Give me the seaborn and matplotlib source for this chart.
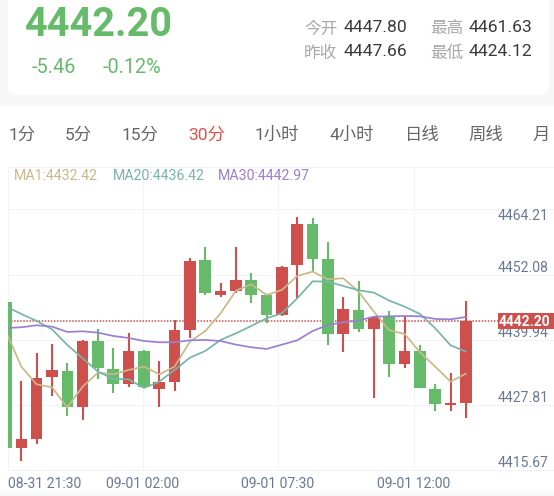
import numpy as np
import pandas as pd
import matplotlib
matplotlib.use("Agg")
import matplotlib.pyplot as plt
from matplotlib.patches import FancyBboxPatch, Rectangle
from matplotlib.transforms import blended_transform_factory
import seaborn as sns

highs = [4447.04,4432.29,4437.43,4439.17,4435.57,4439.91,4442.02,4438.36,4441.27,4438.05,4435.94,4443.69,4455.10,4457.21,4450.57,4457.15,4452.37,4448.28,4453.67,4462.85,4462.66,4458.14,4447.91,4450.95,4444.37,4445.37,4444.37,4438.98,4431.79,4433.83,4447.10]
lows = [4419.76,4417.47,4420.51,4429.43,4425.84,4425.03,4432.59,4430.12,4431.17,4430.92,4427.51,4430.49,4440.28,4448.22,4447.85,4448.59,4446.85,4443.13,4444.37,4447.66,4452.62,4438.98,4437.62,4441.46,4429.06,4433.09,4434.64,4430.92,4426.71,4426.77,4425.34]
opens = [4447.04,4419.76,4421.50,4432.97,4434.21,4427.51,4439.66,4434.45,4431.79,4437.80,4430.86,4432.16,4441.77,4454.73,4448.22,4449.09,4451.01,4448.22,4444.62,4453.80,4461.55,4454.98,4441.09,4445.55,4442.02,4444.19,4435.38,4437.93,4430.86,4427.76,4428.19]
closes = [4419.76,4421.44,4432.78,4434.27,4427.51,4439.66,4434.64,4431.79,4437.80,4431.11,4432.16,4441.71,4454.60,4448.65,4448.96,4451.01,4448.22,4444.62,4453.55,4461.42,4455.04,4441.09,4445.61,4442.02,4444.25,4435.45,4437.93,4430.92,4427.95,4428.13,4443.44]
ma1 = [4441.46,4434.95,4431.66,4431.11,4427.39,4431.23,4433.83,4433.52,4434.33,4434.95,4433.52,4434.95,4439.60,4441.58,4444.87,4449.09,4450.26,4448.28,4449.21,4451.81,4452.62,4451.19,4451.38,4448.90,4445.18,4441.71,4441.03,4437.62,4434.95,4432.16,4433.65]
ma20 = [4446.11,4444.75,4443.44,4441.89,4438.98,4436.50,4434.02,4432.66,4432.59,4430.98,4432.16,4434.33,4436.62,4437.86,4439.91,4441.15,4442.51,4443.94,4444.87,4447.66,4450.82,4450.76,4449.95,4449.15,4448.71,4447.23,4446.11,4444.75,4442.08,4438.92,4437.74]
ma30 = [4442.14,4442.27,4442.64,4442.39,4441.40,4441.52,4441.27,4440.65,4440.28,4439.72,4439.48,4439.48,4439.85,4439.91,4439.72,4439.04,4438.55,4438.24,4439.04,4439.85,4441.58,4442.70,4443.20,4443.51,4444.25,4444.31,4444.37,4444.31,4443.82,4443.75,4444.19]
y_ticks = [4415.67, 4427.81, 4439.94, 4452.08, 4464.21]
y_labels = ["4415.67", "4427.81", "4439.94", "4452.08", "4464.21"]
x_ticks = [0.13, 8.94, 17.74, 26.6]
x_labels = ["08-31 21:30", "09-01 02:00", "09-01 07:30", "09-01 12:00"]
last_price = 4443.44
last_label = "4442.20"
tabs = ["1分", "5分", "15分", "30分", "1小时", "4小时", "日线", "周线", "月"]
tab_left = [9, 65, 122, 188, 255, 329, 405, 468, 532]
legend_text = ["MA1:4432.42", "MA20:4436.42", "MA30:4442.97"]
legend_left = [14, 113, 218]

RED, GREEN = "#cf4f4c", "#66bb6a"
TAN, TEAL, PURPLE = "#c9b98a", "#78b5a8", "#9b7fd0"
SLATE = "#6a7993"
W, H = 554, 496

sns.set_theme(style="white")
FONTS = ["Roboto", "Noto Sans CJK SC", "DejaVu Sans"]
plt.rcParams["font.family"] = FONTS

fig = plt.figure(figsize=(W / 100, H / 100), dpi=100, facecolor="white")

under = fig.add_axes([0, 0, 1, 1], zorder=0)
under.set_xlim(0, W)
under.set_ylim(H, 0)
under.axis("off")
for k, shade in enumerate(["#fdfdfd", "#fbfbfb", "#f9f9f9", "#f7f7f7"]):
    under.add_patch(Rectangle((0, 488 + k * 2), W, 8 - k * 2, fc=shade, ec="none"))

bg = fig.add_axes([0, 0, 1, 1], zorder=2)
bg.set_xlim(0, W)
bg.set_ylim(H, 0)
bg.axis("off")
bg.add_patch(Rectangle((0, 0), W, 106, fc="#f7f7f7", ec="none"))
bg.add_patch(FancyBboxPatch((8, -30), 541, 125, boxstyle="round,pad=0,rounding_size=9",
                            fc="white", ec="none"))

def txt(x, y, s, size, color, ha="left", weight="normal"):
    bg.text(x, y, s, fontsize=size, color=color, ha=ha, va="center", fontweight=weight)

txt(25, 25.5, "4442.20", 28.5, GREEN, weight="bold")
txt(32, 67.5, "-5.46", 14.3, GREEN)
txt(103, 67.5, "-0.12%", 14.3, GREEN)
for x, y, s in [(304, 29, "今开"), (430, 29, "最高"), (304, 53, "昨收"), (430, 53, "最低")]:
    txt(x, y, s, 12, "#a8a8a8")
for x, y, s in [(344, 28, "4447.80"), (469, 28, "4461.63"), (344, 52, "4447.66"), (469, 52, "4424.12")]:
    txt(x, y, s, 12.6, "#3a3a3a")
for x, s in zip(tab_left, tabs):
    txt(x, 135, s, 12.5, "#e0504e" if s == "30分" else "#666666")
for x, s, c in zip(legend_left, legend_text, [TAN, TEAL, PURPLE]):
    txt(x, 175.5, s, 10.2, c)

# chart axes: x from 8 px to right edge, y from 167 px to 470.3 px
PX = 15.33
ax = fig.add_axes([8 / W, (H - 470.3) / H, (W - 8) / W, (470.3 - 167) / H], zorder=1)
ax.patch.set_alpha(0)
ax.set_xlim((8 - 6) / PX, (W - 6) / PX)
ax.set_ylim(4415.67, 4415.67 + (470.3 - 167) / 5.377)

idx = np.arange(len(opens))
o, c = np.array(opens), np.array(closes)
colors = [RED if b >= a else GREEN for a, b in zip(o, c)]

ax.vlines(idx, lows, highs, colors=colors, lw=1.5, zorder=3)
ax.bar(idx, np.maximum(np.abs(c - o), 0.25), bottom=np.minimum(o, c), width=0.76,
       color=colors, edgecolor="none", zorder=3)

ma_df = pd.DataFrame({"i": idx, "MA1": ma1, "MA20": ma20, "MA30": ma30}).melt("i", var_name="ma", value_name="v")
sns.lineplot(data=ma_df, x="i", y="v", hue="ma", palette=[TAN, TEAL, PURPLE], lw=1.25,
             legend=False, ax=ax, zorder=4, errorbar=None)

ax.axhline(last_price, xmax=(498 - 8) / (W - 8), color=RED, lw=1.1, ls=(0, (1, 1)), zorder=2.5)

ax.set_xlabel("")
ax.set_ylabel("")
ax.set_xticks(x_ticks)
ax.set_xticklabels(x_labels)
ax.set_yticks(y_ticks)
ax.set_yticklabels(y_labels)
ax.yaxis.tick_right()
ax.grid(True, color="#f3f3f3", lw=0.8, zorder=0)
ax.set_axisbelow(True)
for side, sp in ax.spines.items():
    sp.set_visible(side in ("top", "bottom"))
    sp.set_color("#f3f3f3")
    sp.set_linewidth(0.8)
ax.tick_params(axis="x", length=0, pad=5, labelsize=10.1, labelcolor=SLATE)
ax.tick_params(axis="y", length=0, pad=-4, labelsize=10.1, labelcolor=SLATE)
ax.get_xticklabels()[0].set_ha("left")
for lab in ax.get_yticklabels():
    lab.set_ha("right")
    lab.set_va("top" if lab.get_text() == "4464.21" else "bottom")

tr = blended_transform_factory(ax.transAxes, ax.transData)
ax.add_patch(Rectangle(((498 - 8) / (W - 8), last_price - 8.3 / 5.377), (W - 498) / (W - 8), 16.6 / 5.377,
                       transform=tr, fc=RED, ec="none", zorder=5))
ax.text(1 - 4 / (W - 8), last_price, last_label, transform=tr, ha="right", va="center_baseline",
        fontsize=10, color="white", fontweight="bold", zorder=6)

fig.savefig("out.png", dpi=100)
